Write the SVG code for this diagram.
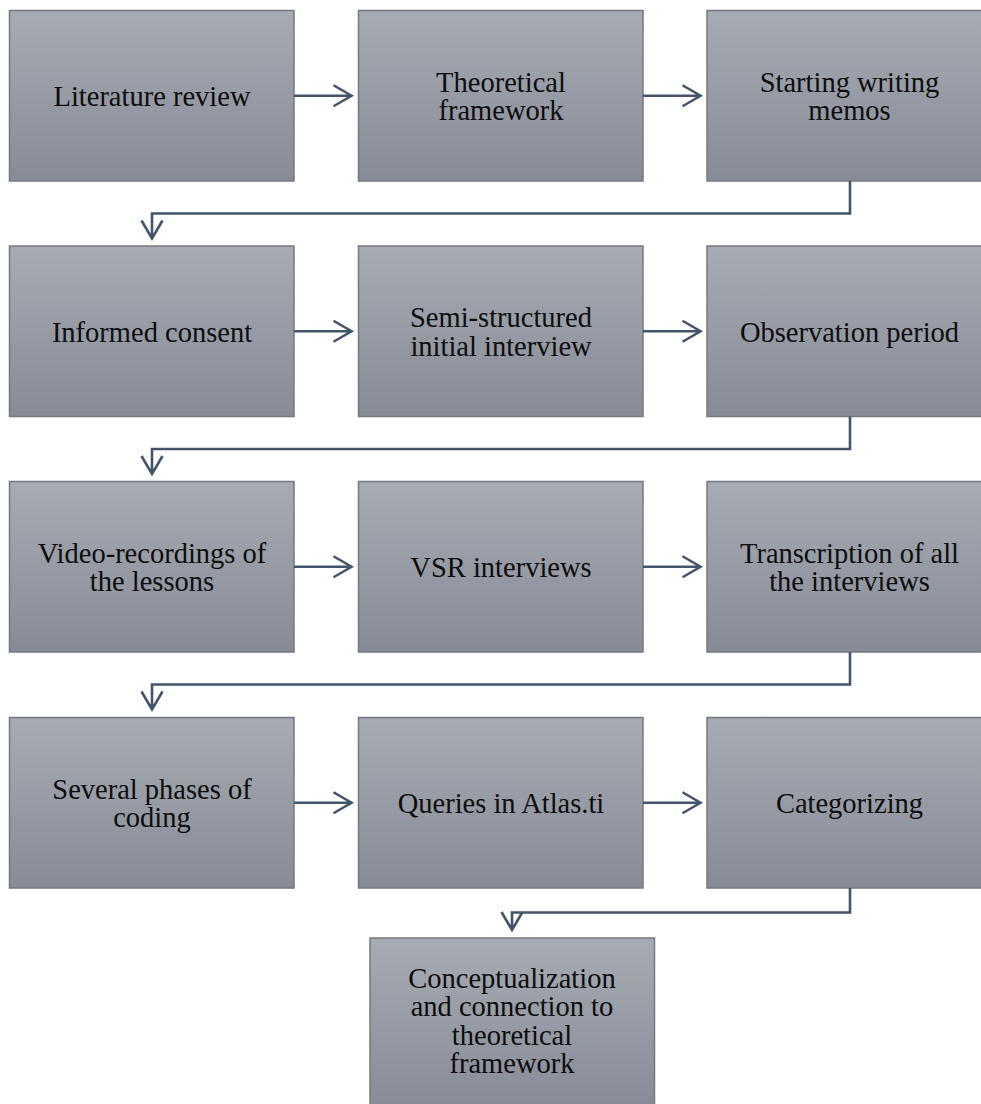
<svg xmlns="http://www.w3.org/2000/svg" width="981" height="1104" viewBox="0 0 981 1104">
  <defs>
    <linearGradient id="boxFill" x1="0" y1="0" x2="0" y2="1">
      <stop offset="0" stop-color="#a7abb3"/>
      <stop offset="1" stop-color="#868b96"/>
    </linearGradient>
  </defs>
  <style>
    .box { fill: url(#boxFill); stroke: #74787f; stroke-width: 1.5; }
    .label { font-family: "Liberation Serif", serif; font-size: 28.5px; fill: #0d0d0d; text-anchor: middle; }
    .conn { fill: none; stroke: #44546a; stroke-width: 2.6; }
  </style>
  <rect width="981" height="1104" fill="#ffffff"/>

  <!-- Row 1 -->
  <g id="literature-review">
    <rect class="box" x="9.5" y="10.5" width="284.5" height="170.5"/>
    <text class="label" font-family="Liberation Serif" x="152" y="106">Literature review</text>
  </g>
  <g id="theoretical-framework">
    <rect class="box" x="358.5" y="10.5" width="284.5" height="170.5"/>
    <text class="label" font-family="Liberation Serif" x="501" y="91.5">Theoretical</text>
    <text class="label" font-family="Liberation Serif" x="501" y="120">framework</text>
  </g>
  <g id="starting-writing-memos">
    <rect class="box" x="707" y="10.5" width="284.5" height="170.5"/>
    <text class="label" font-family="Liberation Serif" x="849.5" y="91.5">Starting writing</text>
    <text class="label" font-family="Liberation Serif" x="849.5" y="120">memos</text>
  </g>

  <!-- Row 2 -->
  <g id="informed-consent">
    <rect class="box" x="9.5" y="246" width="284.5" height="170.5"/>
    <text class="label" font-family="Liberation Serif" x="152" y="341.5">Informed consent</text>
  </g>
  <g id="semi-structured-interview">
    <rect class="box" x="358.5" y="246" width="284.5" height="170.5"/>
    <text class="label" font-family="Liberation Serif" x="501" y="327">Semi-structured</text>
    <text class="label" font-family="Liberation Serif" x="501" y="355.5">initial interview</text>
  </g>
  <g id="observation-period">
    <rect class="box" x="707" y="246" width="284.5" height="170.5"/>
    <text class="label" font-family="Liberation Serif" x="849.5" y="341.5">Observation period</text>
  </g>

  <!-- Row 3 -->
  <g id="video-recordings">
    <rect class="box" x="9.5" y="481.5" width="284.5" height="170.5"/>
    <text class="label" font-family="Liberation Serif" x="152" y="562.5">Video-recordings of</text>
    <text class="label" font-family="Liberation Serif" x="152" y="591">the lessons</text>
  </g>
  <g id="vsr-interviews">
    <rect class="box" x="358.5" y="481.5" width="284.5" height="170.5"/>
    <text class="label" font-family="Liberation Serif" x="501" y="577">VSR interviews</text>
  </g>
  <g id="transcription">
    <rect class="box" x="707" y="481.5" width="284.5" height="170.5"/>
    <text class="label" font-family="Liberation Serif" x="849.5" y="562.5">Transcription of all</text>
    <text class="label" font-family="Liberation Serif" x="849.5" y="591">the interviews</text>
  </g>

  <!-- Row 4 -->
  <g id="phases-of-coding">
    <rect class="box" x="9.5" y="717.5" width="284.5" height="170.5"/>
    <text class="label" font-family="Liberation Serif" x="152" y="798.5">Several phases of</text>
    <text class="label" font-family="Liberation Serif" x="152" y="827">coding</text>
  </g>
  <g id="queries-atlas">
    <rect class="box" x="358.5" y="717.5" width="284.5" height="170.5"/>
    <text class="label" font-family="Liberation Serif" x="501" y="813">Queries in Atlas.ti</text>
  </g>
  <g id="categorizing">
    <rect class="box" x="707" y="717.5" width="284.5" height="170.5"/>
    <text class="label" font-family="Liberation Serif" x="849.5" y="813">Categorizing</text>
  </g>

  <!-- Row 5 -->
  <g id="conceptualization">
    <rect class="box" x="370" y="938" width="284.5" height="170.5"/>
    <text class="label" font-family="Liberation Serif" x="512" y="987.5">Conceptualization</text>
    <text class="label" font-family="Liberation Serif" x="512" y="1016">and connection to</text>
    <text class="label" font-family="Liberation Serif" x="512" y="1044.5">theoretical</text>
    <text class="label" font-family="Liberation Serif" x="512" y="1073">framework</text>
  </g>

  <!-- Connectors: lines plus open chevron heads -->
  <g id="connectors">
    <path class="conn" d="M294,95.75 H351.5 M333.5,85.25 L351.5,95.75 L333.5,106.25"/>
    <path class="conn" d="M643,95.75 H700.5 M682.5,85.25 L700.5,95.75 L682.5,106.25"/>
    <path class="conn" d="M850,181 V213.5 H152 V238.5 M141.5,220.5 L152,238.5 L162.5,220.5"/>

    <path class="conn" d="M294,331.25 H351.5 M333.5,320.75 L351.5,331.25 L333.5,341.75"/>
    <path class="conn" d="M643,331.25 H700.5 M682.5,320.75 L700.5,331.25 L682.5,341.75"/>
    <path class="conn" d="M850,416.5 V449 H152 V474 M141.5,456 L152,474 L162.5,456"/>

    <path class="conn" d="M294,566.75 H351.5 M333.5,556.25 L351.5,566.75 L333.5,577.25"/>
    <path class="conn" d="M643,566.75 H700.5 M682.5,556.25 L700.5,566.75 L682.5,577.25"/>
    <path class="conn" d="M850,652 V684.5 H152 V709.5 M141.5,691.5 L152,709.5 L162.5,691.5"/>

    <path class="conn" d="M294,802.75 H351.5 M333.5,792.25 L351.5,802.75 L333.5,813.25"/>
    <path class="conn" d="M643,802.75 H700.5 M682.5,792.25 L700.5,802.75 L682.5,813.25"/>
    <path class="conn" d="M850,888 V912.5 H512 V930 M501.5,912 L512,930 L522.5,912"/>
  </g>
</svg>
